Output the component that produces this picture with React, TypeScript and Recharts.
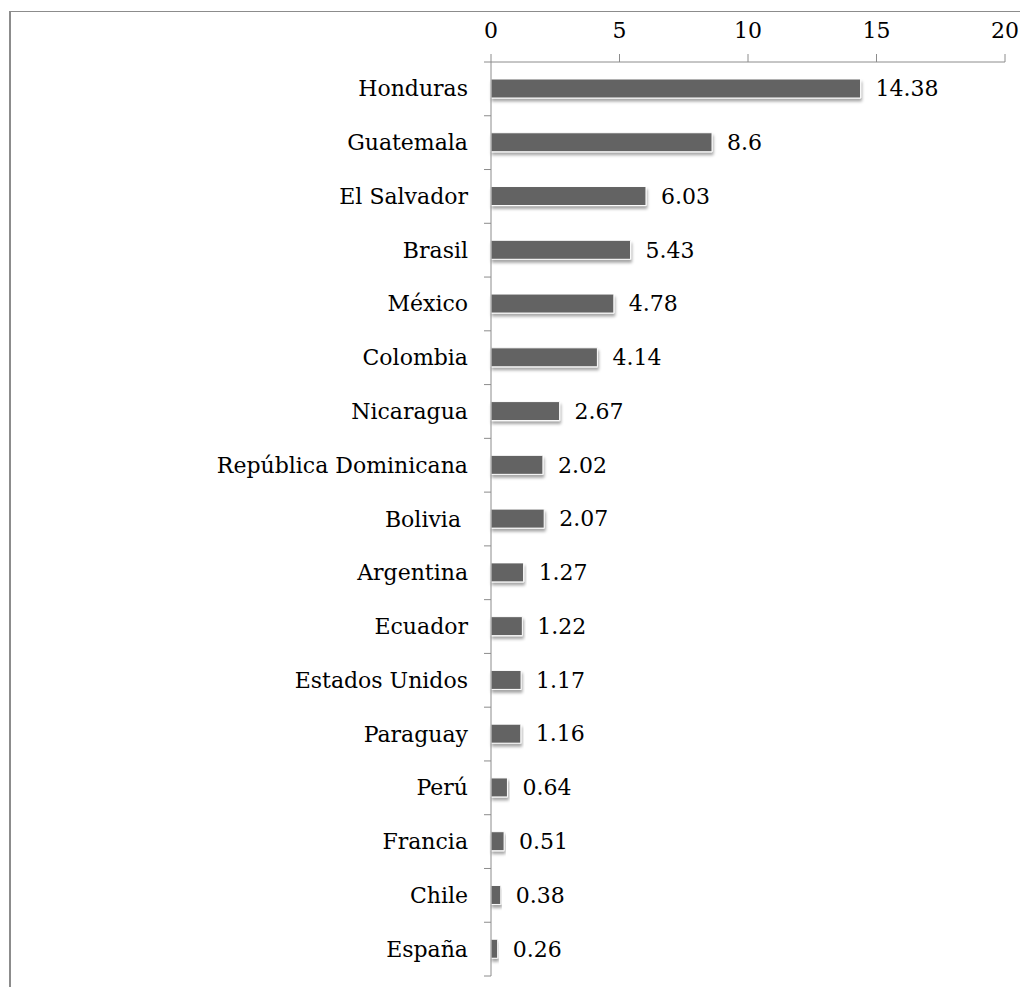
import { Bar, BarChart, LabelList, XAxis, YAxis } from 'recharts';

const countries = [
  'Honduras',
  'Guatemala',
  'El Salvador',
  'Brasil',
  'México',
  'Colombia',
  'Nicaragua',
  'República Dominicana',
  'Bolivia ',
  'Argentina',
  'Ecuador',
  'Estados Unidos',
  'Paraguay',
  'Perú',
  'Francia',
  'Chile',
  'España',
];
const values = [14.38, 8.6, 6.03, 5.43, 4.78, 4.14, 2.67, 2.02, 2.07, 1.27, 1.22, 1.17, 1.16, 0.64, 0.51, 0.38, 0.26];
const valueTicks = [0, 5, 10, 15, 20];

const FONT = '"DejaVu Serif", serif';
const AXIS = '#8c8c8c';
const CHART_W = 1017;
const CHART_H = 975;
const MARGIN = { top: 0, right: 23, bottom: 11, left: 0 };
const X_AXIS_H = 50;
const Y_AXIS_W = 480;
const BAND = (CHART_H - MARGIN.top - MARGIN.bottom - X_AXIS_H) / countries.length;

// category ticks sit between bands, like the original chart
function CountryTick(props: any) {
  const { x, payload, index } = props;
  const y = payload.coordinate;
  const axisX = MARGIN.left + Y_AXIS_W;
  return (
    <g>
      <line x1={axisX - 7} x2={axisX} y1={y - BAND / 2} y2={y - BAND / 2} stroke={AXIS} />
      {index === countries.length - 1 && (
        <line x1={axisX - 7} x2={axisX} y1={y + BAND / 2} y2={y + BAND / 2} stroke={AXIS} />
      )}
      <text
        x={x}
        y={y}
        textAnchor="end"
        dominantBaseline="central"
        fill="#000"
        fontSize={22}
        fontFamily={FONT}
        style={{ whiteSpace: 'pre' }}
      >
        {payload.value}
      </text>
    </g>
  );
}

export default function App() {
  const data = countries.map((country, i) => ({ country, value: values[i] }));

  return (
    <div
      style={{
        marginLeft: 1,
        marginTop: 3,
        width: CHART_W,
        borderLeft: `2px solid ${AXIS}`,
        borderTop: `1px solid ${AXIS}`,
      }}
    >
      <BarChart
        width={CHART_W}
        height={CHART_H}
        data={data}
        layout="vertical"
        margin={MARGIN}
        barCategoryGap={0}
      >
        <defs>
          <filter id="barShadow" x="-10%" y="-30%" width="120%" height="180%">
            <feDropShadow dx="1" dy="3" stdDeviation="1.5" floodColor="#000" floodOpacity="0.35" />
          </filter>
        </defs>
        <XAxis
          type="number"
          orientation="top"
          domain={[0, 20]}
          ticks={valueTicks}
          height={X_AXIS_H}
          tickSize={8}
          tickMargin={16}
          stroke={AXIS}
          tick={{ fill: '#000', fontSize: 22, fontFamily: FONT }}
        />
        <YAxis
          type="category"
          dataKey="country"
          width={Y_AXIS_W}
          tickLine={false}
          tickSize={0}
          tickMargin={23}
          stroke={AXIS}
          interval={0}
          tick={<CountryTick />}
        />
        <Bar
          dataKey="value"
          fill="#636363"
          stroke="#ffffff"
          strokeWidth={1}
          barSize={19}
          filter="url(#barShadow)"
          isAnimationActive={false}
        >
          <LabelList
            dataKey="value"
            position="right"
            offset={15}
            style={{ fill: '#000', fontSize: 22, fontFamily: FONT, filter: 'none' }}
          />
        </Bar>
      </BarChart>
    </div>
  );
}
